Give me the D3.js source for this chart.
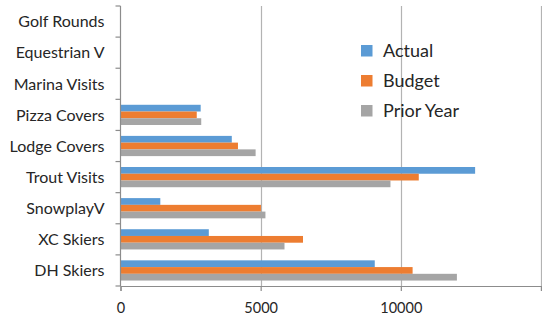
<!DOCTYPE html>
<html>
<head>
<meta charset="utf-8">
<script src="https://cdn.jsdelivr.net/npm/d3@7"></script>
<style>
  body { margin: 0; background: #fff; }
  text { font-family: Lato, "Open Sans", sans-serif; fill: #262626; }
</style>
</head>
<body>
<script>
// categories, top to bottom as drawn
const categories = ["Golf Rounds", "Equestrian V", "Marina Visits", "Pizza Covers", "Lodge Covers",
                    "Trout Visits", "SnowplayV", "XC Skiers", "DH Skiers"];
const seriesNames = ["Actual", "Budget", "Prior Year"];
const seriesColors = ["#5b9bd5", "#ed7d31", "#a5a5a5"];

// values (null = no bar)
const actual    = [null, null, null, 2860, 3970, 12650, 1420, 3150, 9070];
const budget    = [null, null, null, 2720, 4190, 10640, 5010, 6510, 10420];
const priorYear = [null, null, null, 2880, 4820,  9630, 5170, 5850, 12000];

const xTicks = [0, 5000, 10000, 15000];
const xTickLabels = ["0", "5000", "10000", ""];

const width = 542, height = 319;
const margin = { top: 6, right: 1, bottom: 33, left: 120.5 };

const svg = d3.select("body").append("svg")
    .attr("width", width)
    .attr("height", height);

const x = d3.scaleLinear()
    .domain([0, 15000])
    .range([margin.left, width - margin.right]);

const y = d3.scaleBand()
    .domain(categories)
    .range([margin.top, height - margin.bottom])
    .paddingInner(0.35)
    .paddingOuter(0.175);

const ySeries = d3.scaleBand()
    .domain(seriesNames)
    .range([0, y.bandwidth()]);

// gridlines
svg.append("g")
  .selectAll("line")
  .data(xTicks.slice(1))
  .join("line")
    .attr("x1", d => Math.round(x(d)) + 0.5)
    .attr("x2", d => Math.round(x(d)) + 0.5)
    .attr("y1", margin.top)
    .attr("y2", height - margin.bottom)
    .attr("stroke", "#b3b3b3")
    .attr("stroke-width", 1.2);

// bars
const allSeries = [actual, budget, priorYear];
const rows = [];
categories.forEach((c, i) => {
  seriesNames.forEach((s, j) => {
    if (allSeries[j][i] != null) rows.push({ cat: c, series: s, value: allSeries[j][i], color: seriesColors[j] });
  });
});

svg.append("g")
  .selectAll("rect")
  .data(rows)
  .join("rect")
    .attr("x", x(0))
    .attr("y", d => y(d.cat) + ySeries(d.series))
    .attr("width", d => x(d.value) - x(0))
    .attr("height", ySeries.bandwidth())
    .attr("fill", d => d.color);

// x axis
const xAxis = svg.append("g")
    .attr("transform", `translate(0,${height - margin.bottom})`)
    .call(d3.axisBottom(x).tickValues(xTicks).tickFormat((d, i) => xTickLabels[i]).tickSize(5).tickPadding(12));
xAxis.selectAll("line, path").attr("stroke", "#8c8c8c").attr("stroke-width", 1.2);
xAxis.selectAll("text").style("font-size", "14.5px").style("font-family", "Lato, sans-serif").attr("fill", "#262626");

// y axis (category axis with tick marks between categories)
const yAxisG = svg.append("g")
    .attr("transform", `translate(${margin.left},0)`);
yAxisG.append("line")
    .attr("y1", margin.top)
    .attr("y2", height - margin.bottom)
    .attr("stroke", "#8c8c8c")
    .attr("stroke-width", 1.2);
const step = y.step();
const boundaries = d3.range(categories.length + 1).map(i => margin.top + i * step);
yAxisG.selectAll(".tk")
  .data(boundaries)
  .join("line")
    .attr("class", "tk")
    .attr("x1", -5)
    .attr("x2", 0)
    .attr("y1", d => d)
    .attr("y2", d => d)
    .attr("stroke", "#8c8c8c")
    .attr("stroke-width", 1.2);
yAxisG.selectAll(".lbl")
  .data(categories)
  .join("text")
    .attr("class", "lbl")
    .attr("x", -16)
    .attr("y", d => y(d) + y.bandwidth() / 2)
    .attr("dy", "0.36em")
    .attr("text-anchor", "end")
    .style("font-size", "16px")
    .text(d => d);

// legend
const legend = svg.append("g")
    .attr("transform", "translate(361,45)");
seriesNames.forEach((s, i) => {
  const g = legend.append("g").attr("transform", `translate(0,${i * 30})`);
  g.append("rect")
      .attr("width", 11.5)
      .attr("height", 11.5)
      .attr("fill", seriesColors[i]);
  g.append("text")
      .attr("x", 22)
      .attr("y", 5.8)
      .attr("dy", "0.36em")
      .style("font-size", "18px")
      .text(s);
});
</script>
</body>
</html>
